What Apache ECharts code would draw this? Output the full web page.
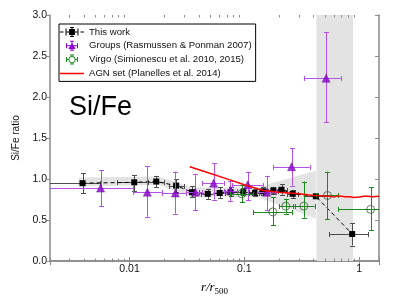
<!DOCTYPE html>
<html><head><meta charset="utf-8">
<script src="https://cdn.jsdelivr.net/npm/echarts@6/dist/echarts.min.js"></script>
<style>html,body{margin:0;padding:0;background:#fff}#c{width:399px;height:301px}</style>
</head><body><div id="c"></div>
<script>
// ---- data ----
const xMin = 0.00203, xMax = 1.49;
const yMin = 0, yMax = 3, yStep = 0.5;
const xMajorTicks = [0.01, 0.1, 1];
const xMinorTicks = [0.003,0.004,0.005,0.006,0.007,0.008,0.009,0.02,0.03,0.04,0.05,0.06,0.07,0.08,0.09,0.2,0.3,0.4,0.5,0.6,0.7,0.8,0.9];

const thisWorkX  = [0.0039,0.011,0.0171,0.0255,0.035,0.048,0.061,0.076,0.098,0.124,0.146,0.179,0.211,0.264,0.42,0.87];
const thisWorkY  = [0.95,0.96,0.97,0.92,0.84,0.82,0.83,0.84,0.84,0.83,0.85,0.86,0.87,0.82,0.79,0.33];
const thisWorkYLo= [0.83,0.85,0.90,0.84,0.78,0.76,0.77,0.79,0.80,0.79,0.80,0.82,0.81,0.77,0.77,0.19];
const thisWorkYHi= [1.07,1.05,1.04,1.00,0.91,0.88,0.90,0.90,0.89,0.88,0.90,0.90,0.94,0.87,0.81,0.46];
const thisWorkXLo= [0.0015,0.0078,0.0145,0.022,0.031,0.042,0.054,0.068,0.087,0.11,0.135,0.162,0.195,0.237,0.33,0.55];
const thisWorkXHi= [0.0055,0.0145,0.02,0.03,0.04,0.054,0.068,0.086,0.11,0.135,0.16,0.195,0.235,0.295,0.53,1.2];

const groupsX  = [0.0056,0.0143,0.0251,0.0375,0.054,0.0756,0.107,0.157,0.258,0.516];
const groupsY  = [0.89,0.84,0.83,0.84,0.95,0.86,0.93,0.84,1.15,2.23];
const groupsYLo= [0.67,0.54,0.58,0.62,0.75,0.73,0.74,0.62,0.92,1.69];
const groupsYHi= [1.11,1.16,1.09,1.06,1.19,0.98,1.09,1.04,1.38,2.79];
const groupsXLo= [0.0015,0.0108,0.019,0.031,0.043,0.066,0.078,0.13,0.179,0.33];
const groupsXHi= [0.0108,0.019,0.031,0.043,0.066,0.086,0.146,0.19,0.37,0.70];

const virgoX  = [0.095,0.177,0.23,0.33,0.53,1.26];
const virgoY  = [0.82,0.60,0.67,0.67,0.80,0.63];
const virgoYLo= [0.72,0.44,0.58,0.53,0.51,0.38];
const virgoYHi= [0.93,0.78,0.76,0.97,1.09,0.90];
const virgoXLo= [0.075,0.12,0.2,0.266,0.42,0.66];
const virgoXHi= [0.12,0.26,0.276,0.41,0.66,2.0];

const agnX = [0.0335,0.05,0.075,0.1,0.146,0.2,0.3,0.4,0.5,0.56,0.6,0.65,0.7,0.75,0.83,0.9,1.0,1.1,1.2,1.3,1.49];
const agnY = [1.15,1.07,0.99,0.93,0.86,0.84,0.82,0.80,0.795,0.79,0.78,0.795,0.79,0.785,0.785,0.775,0.78,0.79,0.79,0.785,0.79];

const bandX  = [0.0036,0.018,0.035,0.1,0.13,0.42];
const bandUp = [1.02,1.03,0.90,0.90,0.90,1.10];
const bandLo = [0.91,0.93,0.78,0.78,0.78,0.52];
const shadeX = [0.425, 0.885];

const legendNames = ['This work','Groups (Rasmussen & Ponman 2007)','Virgo (Simionescu et al. 2010, 2015)','AGN set (Planelles et al. 2014)'];

// ---- helpers ----
const px = v => Math.round(v) + 0.5;
function rows(){ const cols = Array.from(arguments); return cols[0].map((_, i) => cols.map(c => c[i])); }
function errRenderer(color, cap){
  return function(params, api){
    const x = api.value(0), y = api.value(1);
    const c = api.coord([x, y]);
    const a = api.coord([api.value(2), y]), b = api.coord([api.value(3), y]);
    const lo = api.coord([x, api.value(4)]), hi = api.coord([x, api.value(5)]);
    const st = {stroke: color, lineWidth: 1};
    const L = (x1,y1,x2,y2) => ({type:'line', shape:{x1:x1,y1:y1,x2:x2,y2:y2}, style:st});
    const cy = px(c[1]), cx = px(c[0]);
    return {type:'group', children:[
      L(a[0], cy, b[0], cy),
      L(px(a[0]), cy-cap, px(a[0]), cy+cap),
      L(px(b[0]), cy-cap, px(b[0]), cy+cap),
      L(cx, lo[1], cx, hi[1]),
      L(cx-cap, px(lo[1]), cx+cap, px(lo[1])),
      L(cx-cap, px(hi[1]), cx+cap, px(hi[1]))
    ]};
  };
}

const bandColor = '#e3e3e3';
const axisColor = '#8a8a8a';
const font = 'Liberation Sans';

const iconThis = 'path://M0 4.5h3.5v1h-3.5z M5.5 1.5h1v7h-1z M6.5 4.5h2.5v1h-2.5z M9 2h6v6h-6z M15 4.5h2.5v1h-2.5z M17.5 1.5h1v7h-1z M20.5 4.5h3.5v1h-3.5z M11.5 0h1v10h-1z M10 0h4v1h-4z M10 9h4v1h-4z M0 0h0.01v0.01z M23.99 9.99h0.01v0.01z';
const iconGroups = 'path://M12 1.8L15.6 8.2L8.4 8.2Z M6 4.5h12v1h-12z M6 2.5h1v5h-1z M17 2.5h1v5h-1z M11.5 0h1v10h-1z M10 0h4v1h-4z M10 9h4v1h-4z M0 0h0.01v0.01z M23.99 9.99h0.01v0.01z';
const iconVirgo = 'path://M15.5 5A3.5 3.5 0 1 0 8.5 5A3.5 3.5 0 1 0 15.5 5Z M14.6 5A2.6 2.6 0 1 1 9.4 5A2.6 2.6 0 1 1 14.6 5Z M6 4.5h2.5v1h-2.5z M15.5 4.5h2.5v1h-2.5z M6 2.5h1v5h-1z M17 2.5h1v5h-1z M11.5 0h1v1.5h-1z M11.5 8.5h1v1.5h-1z M10 0h4v1h-4z M10 9h4v1h-4z M0 0h0.01v0.01z M23.99 9.99h0.01v0.01z';
const iconAgn = 'path://M0 4.25h24v1.5h-24z M0 0h0.01v0.01z M23.99 9.99h0.01v0.01z';

const chart = echarts.init(document.getElementById('c'), null, {renderer:'canvas'});
const xLabelFmt = v => {
  const k = Math.round(Math.log10(v));
  if (Math.abs(Math.log10(v) - k) > 1e-6) return '';
  const hit = xMajorTicks.find(t => Math.abs(Math.log10(t) - k) < 1e-6);
  return hit === undefined ? '' : String(hit);
};

chart.setOption({
  animation: false,
  backgroundColor: '#fff',
  title: {text:'Si/Fe', left: 69, top: 94, padding: 0,
    textStyle:{fontSize: 27, fontWeight:'normal', fontFamily: font, color:'#000'}},
  legend: {
    orient:'vertical', left: 59, top: 24, padding:[3,4,3,1],
    itemWidth: 24, itemHeight: 10, itemGap: 3.8,
    borderColor:'#000', borderWidth: 1, backgroundColor:'#fff',
    selectedMode: false,
    textStyle:{fontSize: 9.6, fontFamily: font, color:'#111'},
    data:[
      {name: legendNames[0], icon: iconThis, itemStyle:{color:'#000'}},
      {name: legendNames[1], icon: iconGroups, itemStyle:{color:'#8f00d6'}},
      {name: legendNames[2], icon: iconVirgo, itemStyle:{color:'#1a8a1a'}},
      {name: legendNames[3], icon: iconAgn, itemStyle:{color:'#ff0000'}}
    ]
  },
  grid: {left: 50, right: 20, top: 15, bottom: 36},
  xAxis: [
    {type:'log', logBase: 10, min: xMin, max: xMax, position:'bottom',
      name: '{a|r/r}{s|500}', nameLocation:'middle', nameGap: 4,
      nameTextStyle:{rich:{
        a:{fontSize: 13, fontStyle:'italic', fontFamily:'Liberation Serif', color:'#000', lineHeight: 16},
        s:{fontSize: 9, fontFamily:'Liberation Serif', color:'#000', lineHeight: 16, padding:[7,0,0,0]}
      }},
      axisLine:{lineStyle:{color: axisColor, width: 1.5}},
      axisTick:{inside: true, length: 4, lineStyle:{color: axisColor}},
      axisLabel:{formatter: xLabelFmt, fontSize: 10.5, fontFamily: font, color:'#111', margin: 3},
      splitLine:{show:false}, minorTick:{show:false}},
    {type:'log', logBase: 10, min: xMin, max: xMax, position:'top',
      axisLine:{lineStyle:{color: axisColor, width: 1.5}},
      axisTick:{inside: true, length: 4, lineStyle:{color: axisColor}},
      axisLabel:{show:false}, splitLine:{show:false}}
  ],
  yAxis: [
    {type:'value', min: yMin, max: yMax, interval: yStep, position:'left',
      name:'Si/Fe ratio', nameLocation:'middle', nameGap: 22,
      nameTextStyle:{fontSize: 10, fontFamily: font, color:'#111'},
      axisLine:{show:true, lineStyle:{color: axisColor, width: 1.5}},
      axisTick:{show:true, inside:false, length: 3, lineStyle:{color: axisColor}},
      axisLabel:{formatter: v => v.toFixed(1), fontSize: 10.5, fontFamily: font, color:'#111', margin: 3},
      splitLine:{show:false}},
    {type:'value', min: yMin, max: yMax, interval: yStep, position:'right',
      axisLine:{show:true, lineStyle:{color: axisColor, width: 1.5}},
      axisTick:{show:true, inside:true, length: 4, lineStyle:{color: axisColor}},
      axisLabel:{show:false}, splitLine:{show:false}}
  ],
  series: [
    { // shaded uncertainty wedge
      type:'custom', name:'band', z: 1, clip: true, silent: true,
      data: [[bandX[0], bandUp[0]]],
      renderItem: function(params, api){
        const pts = [];
        bandX.forEach((x,i) => pts.push(api.coord([x, bandUp[i]])));
        for (let i = bandX.length-1; i >= 0; i--) pts.push(api.coord([bandX[i], bandLo[i]]));
        return {type:'polygon', shape:{points: pts}, style:{fill: bandColor}};
      }
    },
    { // vertical shaded region
      type:'custom', name:'shade', z: 1, clip: true, silent: true,
      data: [[shadeX[0], yMin]],
      renderItem: function(params, api){
        const p = [api.coord([shadeX[0], yMin]), api.coord([shadeX[1], yMin]), api.coord([shadeX[1], yMax]), api.coord([shadeX[0], yMax])];
        return {type:'polygon', shape:{points: p}, style:{fill: bandColor}};
      }
    },
    { // minor log ticks on bottom and top
      type:'custom', name:'minorTicks', z: 5, clip: false, silent: true,
      data: xMinorTicks.map(v => [v, yMin]),
      renderItem: function(params, api){
        const b = api.coord([api.value(0), yMin]), t = api.coord([api.value(0), yMax]);
        const x = px(b[0]);
        const st = {stroke: axisColor, lineWidth: 1};
        return {type:'group', children:[
          {type:'line', shape:{x1:x, y1:b[1], x2:x, y2:b[1]-2.5}, style: st},
          {type:'line', shape:{x1:x, y1:t[1], x2:x, y2:t[1]+2.5}, style: st}
        ]};
      }
    },
    // This work
    { type:'custom', name: legendNames[0], z: 3, clip: true,
      data: rows(thisWorkX, thisWorkY, thisWorkXLo, thisWorkXHi, thisWorkYLo, thisWorkYHi),
      encode:{x:0, y:1}, renderItem: errRenderer('#4d4d4d', 2.5) },
    { type:'line', name: legendNames[0], z: 4,
      data: rows(thisWorkX, thisWorkY),
      symbol:'rect', symbolSize: 6, showSymbol: true,
      itemStyle:{color:'#000'}, lineStyle:{color:'#000', width: 1, type:[4,3]} },
    // Groups
    { type:'custom', name: legendNames[1], z: 5, clip: true,
      data: rows(groupsX, groupsY, groupsXLo, groupsXHi, groupsYLo, groupsYHi),
      encode:{x:0, y:1}, renderItem: errRenderer('#b451e8', 2.5) },
    { type:'scatter', name: legendNames[1], z: 6,
      data: rows(groupsX, groupsY), symbol:'triangle', symbolSize: 8,
      itemStyle:{color:'#8a00cc', borderColor:'#5a0088', borderWidth: 0.5} },
    // Virgo
    { type:'custom', name: legendNames[2], z: 7, clip: true,
      data: rows(virgoX, virgoY, virgoXLo, virgoXHi, virgoYLo, virgoYHi),
      encode:{x:0, y:1}, renderItem: errRenderer('#1a8a1a', 2.5) },
    { type:'scatter', name: legendNames[2], z: 8,
      data: rows(virgoX, virgoY), symbol:'circle', symbolSize: 8,
      itemStyle:{color:'rgba(0,0,0,0)', borderColor:'#3d5c3d', borderWidth: 1} },
    // AGN
    { type:'line', name: legendNames[3], z: 9,
      data: rows(agnX, agnY), showSymbol: false, symbol:'none',
      lineStyle:{color:'#ff0000', width: 1.5}, itemStyle:{color:'#ff0000'} }
  ]
});
</script></body></html>
